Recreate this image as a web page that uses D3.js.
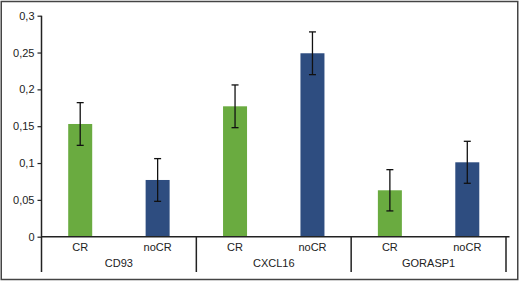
<!DOCTYPE html>
<html>
<head>
<meta charset="utf-8">
<script src="https://cdn.jsdelivr.net/npm/d3@7"></script>
<style>
body { margin: 0; background: #fff; }
text { font-family: "Liberation Sans", Arial, sans-serif; font-size: 11px; fill: #222; }
</style>
</head>
<body>
<svg id="chart" width="520" height="282"></svg>
<script>
// values
var genes = ["CD93", "CXCL16", "GORASP1"];
var groups = ["CR", "noCR"];
var means = [0.153, 0.077, 0.177, 0.249, 0.063, 0.101];
var errs = [0.029, 0.029, 0.029, 0.029, 0.028, 0.0285];
var yTicks = [0, 0.05, 0.1, 0.15, 0.2, 0.25, 0.3];

var colors = { CR: "#6aab40", noCR: "#2e4d80" };

var data = [];
genes.forEach(function(g, gi) {
    groups.forEach(function(s, si) {
        var i = gi * groups.length + si;
        data.push({ gene: g, group: s, key: g + "_" + s, value: means[i], err: errs[i] });
    });
});

var svg = d3.select("#chart");

// outer frame
svg.append("rect")
    .attr("x", 1.25).attr("y", 1.5)
    .attr("width", 516.5).attr("height", 278)
    .attr("fill", "none")
    .attr("stroke", "#444")
    .attr("stroke-width", 1.5);

// plot area (window.top is reserved, so use plot_* names)
var plot_left = 41.5, plot_right = 506, plot_top = 15.7, plot_bottom = 236.7;

var x = d3.scaleBand()
    .domain(data.map(function(d) { return d.key; }))
    .range([plot_left, plot_right])
    .paddingInner(0.69)
    .paddingOuter(0.345);

var step = x.step();

var y = d3.scaleLinear()
    .domain([0, 0.3])
    .range([plot_bottom, plot_top]);

var fmt = function(v) { return String(+v.toFixed(2)).replace(".", ","); };

// y axis
var yAxis = svg.append("g")
    .attr("transform", "translate(" + plot_left + ",0)")
    .call(d3.axisLeft(y).tickValues(yTicks).tickSize(4).tickPadding(3).tickFormat(fmt));
yAxis.select(".domain").remove();
yAxis.selectAll("line").attr("stroke", "#222").attr("stroke-width", 1.2);
yAxis.selectAll("text").attr("fill", "#222").style("font-size", "11px");

svg.append("line")
    .attr("x1", plot_left).attr("x2", plot_left)
    .attr("y1", plot_top).attr("y2", 272)
    .attr("stroke", "#222").attr("stroke-width", 1.5);

// bars
svg.selectAll("rect.bar")
    .data(data)
    .enter()
    .append("rect")
    .attr("class", "bar")
    .attr("x", function(d) { return x(d.key); })
    .attr("y", function(d) { return y(d.value); })
    .attr("width", x.bandwidth())
    .attr("height", function(d) { return plot_bottom - y(d.value); })
    .attr("fill", function(d) { return colors[d.group]; });

// error bars
var eb = svg.append("g").selectAll("g")
    .data(data)
    .enter()
    .append("g")
    .attr("transform", function(d) { return "translate(" + (x(d.key) + x.bandwidth() / 2) + ",0)"; });
eb.append("line")
    .attr("y1", function(d) { return y(d.value + d.err); })
    .attr("y2", function(d) { return y(d.value - d.err); })
    .attr("stroke", "#111").attr("stroke-width", 1.3);
eb.selectAll("line.cap")
    .data(function(d) { return [d.value + d.err, d.value - d.err]; })
    .enter()
    .append("line")
    .attr("class", "cap")
    .attr("x1", -3.5).attr("x2", 3.5)
    .attr("y1", function(v) { return y(v); })
    .attr("y2", function(v) { return y(v); })
    .attr("stroke", "#111").attr("stroke-width", 1.3);

// x axis baseline
svg.append("line")
    .attr("x1", plot_left).attr("x2", 509.5)
    .attr("y1", plot_bottom).attr("y2", plot_bottom)
    .attr("stroke", "#222").attr("stroke-width", 1.5);

// group separators and gene labels
genes.forEach(function(g, gi) {
    var xr = x(g + "_" + groups[groups.length - 1]) + x.bandwidth() / 2 + step / 2;
    svg.append("line")
        .attr("x1", xr).attr("x2", xr)
        .attr("y1", plot_bottom).attr("y2", 272)
        .attr("stroke", "#222").attr("stroke-width", 1.5);
    var xl = x(g + "_" + groups[0]) + x.bandwidth() / 2 - step / 2;
    svg.append("text")
        .attr("x", (xl + xr) / 2)
        .attr("y", 267)
        .attr("text-anchor", "middle")
        .text(g);
});

// category labels
svg.selectAll("text.cat")
    .data(data)
    .enter()
    .append("text")
    .attr("class", "cat")
    .attr("x", function(d) { return x(d.key) + x.bandwidth() / 2; })
    .attr("y", 250.5)
    .attr("text-anchor", "middle")
    .text(function(d) { return d.group; });
</script>
</body>
</html>
